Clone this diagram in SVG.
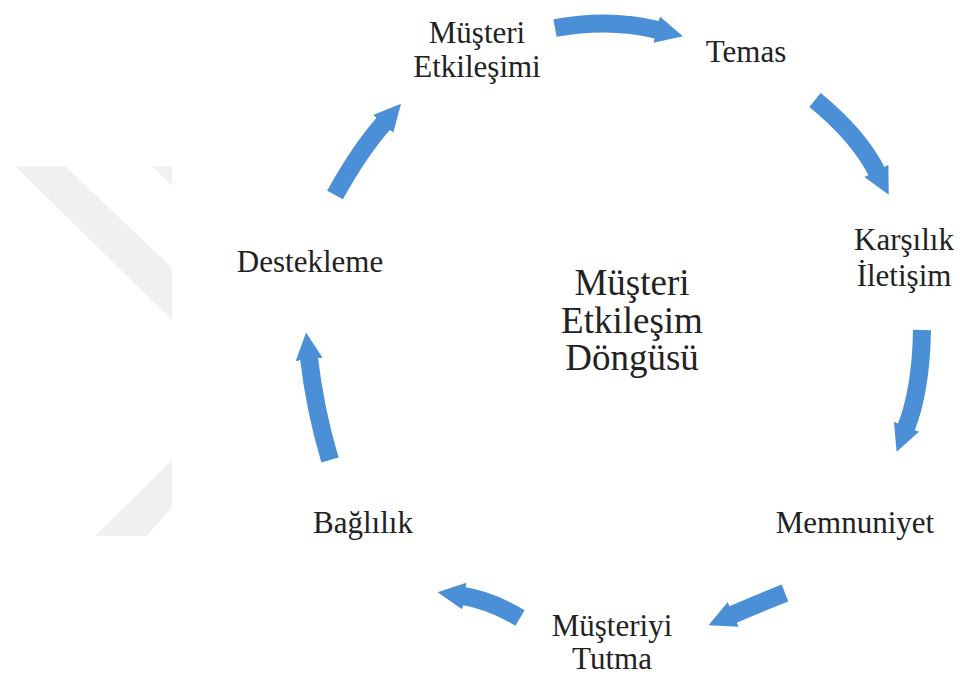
<svg xmlns="http://www.w3.org/2000/svg" width="968" height="680" viewBox="0 0 968 680">
<style>
.bg{fill:#f0f0f0}
.lbl{font-family:"Liberation Serif","Times New Roman",serif;font-size:31px;fill:#222;text-anchor:middle}
.ctr{font-family:"Liberation Serif","Times New Roman",serif;font-size:37px;fill:#222;text-anchor:middle}
.arr{fill:none;stroke:#4b8fd6;stroke-width:18;marker-end:url(#head)}
</style>
<defs>
<marker id="head" viewBox="0 0 10 10" refX="0.5" refY="5" markerWidth="1.5" markerHeight="2.8" markerUnits="strokeWidth" orient="auto">
<path d="M0,0 L10,5 L0,10 z" fill="#4b8fd6"/>
</marker>
</defs>
<rect width="968" height="680" fill="#fff"/>
<g id="watermark">
<polygon class="bg" points="15,166 65,166 172,268 172,320"/>
<polygon class="bg" points="152,166 172,166 172,186"/>
<polygon class="bg" points="95,536 147,536 172,507 172,460"/>
</g>
<g id="connectors">
<path class="arr" d="M555,28 Q610,18 658,30"/>
<path class="arr" d="M815,100 Q858,135 877,172"/>
<path class="arr" d="M922,330 Q921,390 906,428"/>
<path class="arr" d="M785,593 Q757,604 732,615"/>
<path class="arr" d="M520,618 Q490,600 463,596"/>
<path class="arr" d="M330,460 Q315,410 309,358"/>
<path class="arr" d="M335,195 Q360,150 384,123"/>
</g>
<g id="n-musteri-etkilesimi">
<text class="lbl" x="477" y="43">Müşteri</text>
<text class="lbl" x="477" y="77">Etkileşimi</text>
</g>
<g id="n-temas"><text class="lbl" x="746" y="62">Temas</text></g>
<g id="n-karsilik">
<text class="lbl" x="904" y="250">Karşılık</text>
<text class="lbl" x="904" y="286">İletişim</text>
</g>
<g id="n-memnuniyet"><text class="lbl" x="855" y="533">Memnuniyet</text></g>
<g id="n-musteriyi-tutma">
<text class="lbl" x="612" y="636">Müşteriyi</text>
<text class="lbl" x="612" y="669">Tutma</text>
</g>
<g id="n-baglilik"><text class="lbl" x="363" y="533">Bağlılık</text></g>
<g id="n-destekleme"><text class="lbl" x="310" y="272">Destekleme</text></g>
<g id="n-center">
<text class="ctr" x="632" y="295">Müşteri</text>
<text class="ctr" x="632" y="333">Etkileşim</text>
<text class="ctr" x="632" y="370">Döngüsü</text>
</g>
</svg>
